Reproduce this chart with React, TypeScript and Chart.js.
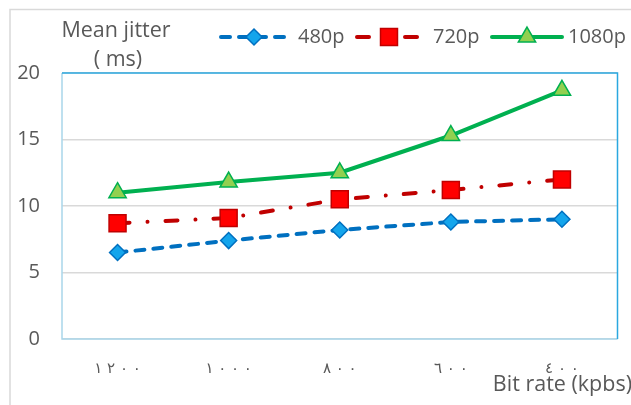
import React, { useEffect, useRef } from "react";
import { Chart, PointElement, registerables } from "chart.js";

Chart.register(...registerables);

// Bit rates (kbps), shown with Arabic-Indic digits
const bitRates = ["١٢٠٠", "١٠٠٠", "٨٠٠", "٦٠٠", "٤٠٠"];

// Mean jitter (ms) per resolution
const jitter480p = [6.5, 7.4, 8.2, 8.8, 9.0];
const jitter720p = [8.7, 9.1, 10.5, 11.2, 12.0];
const jitter1080p = [11.0, 11.8, 12.5, 15.3, 18.7];

const seriesNames = ["480p", "720p", "1080p"];

const TEXT = "#595959";
const FONT = "'Open Sans', 'Noto Sans', sans-serif";

// Put a space between digits; the LRM keeps the digits in reading order.
const spaced = (s: string) => s.split("").join(" \u200E");

const frame = {
  id: "frame",
  beforeDraw(chart: any) {
    const { ctx, width, height } = chart;
    ctx.save();
    ctx.fillStyle = "#ffffff";
    ctx.fillRect(0, 0, width, height);
    ctx.strokeStyle = "#D9D9D9";
    ctx.lineWidth = 1.5;
    ctx.strokeRect(10, 9.5, width + 20, height + 20);
    ctx.restore();
  },
  beforeDatasetsDraw(chart: any) {
    const { ctx, chartArea: a } = chart;
    ctx.save();
    ctx.lineWidth = 1.5;
    ctx.strokeStyle = "#A9D6EA";
    ctx.beginPath();
    ctx.moveTo(a.left, a.top);
    ctx.lineTo(a.left, a.bottom);
    ctx.lineTo(a.right, a.bottom);
    ctx.stroke();
    ctx.strokeStyle = "#2AA8E0";
    ctx.beginPath();
    ctx.moveTo(a.left, a.top);
    ctx.lineTo(a.right, a.top);
    ctx.lineTo(a.right, a.bottom);
    ctx.stroke();
    ctx.restore();
  },
};

// Titles and a legend with line + marker samples
const annotations = {
  id: "annotations",
  afterDraw(chart: any) {
    const { ctx, width } = chart;
    ctx.save();
    ctx.fillStyle = TEXT;
    ctx.font = `21.5px ${FONT}`;
    ctx.textBaseline = "middle";
    ctx.textAlign = "center";
    ctx.fillText("Mean jitter", 116, 31);
    ctx.fillText("( ms)", 118, 60);
    ctx.textAlign = "right";
    ctx.fillText("Bit rate (kpbs)", width + 1, 385);

    const items = [
      { x0: 221, x1: 287, tx: 298 },
      { x0: 357, x1: 421, tx: 433 },
      { x0: 492, x1: 562, tx: 568 },
    ];
    const ly = 37;
    chart.data.datasets.forEach((ds: any, i: number) => {
      const it = items[i];
      ctx.save();
      ctx.strokeStyle = ds.borderColor;
      ctx.lineWidth = ds.borderWidth;
      ctx.lineCap = "round";
      ctx.setLineDash(ds.borderDash || []);
      ctx.beginPath();
      ctx.moveTo(it.x0, ly);
      ctx.lineTo(it.x1, ly);
      ctx.stroke();
      ctx.restore();

      const marker: any = new PointElement({} as any);
      marker.x = (it.x0 + it.x1) / 2;
      marker.y = ly;
      marker.options = {
        pointStyle: ds.pointStyle,
        radius: ds.pointRadius,
        rotation: 0,
        borderWidth: ds.pointBorderWidth,
        backgroundColor: ds.pointBackgroundColor,
        borderColor: ds.pointBorderColor,
      };
      ctx.save();
      marker.draw(ctx);
      ctx.restore();

      ctx.fillStyle = TEXT;
      ctx.textAlign = "left";
      ctx.textBaseline = "middle";
      ctx.font = `20px ${FONT}`;
      ctx.fillText(seriesNames[i], it.tx, ly);
    });
    ctx.restore();
  },
};

export default function App() {
  const ref = useRef<HTMLCanvasElement | null>(null);

  useEffect(() => {
    if (!ref.current) return;
    const chart = new Chart(ref.current, {
      type: "line",
      data: {
        labels: bitRates,
        datasets: [
          {
            label: seriesNames[0],
            data: jitter480p,
            borderColor: "#0070C0",
            borderWidth: 4,
            borderDash: [9, 9],
            borderCapStyle: "round",
            pointStyle: "rectRot",
            pointRadius: 8,
            pointBackgroundColor: "#14A5EC",
            pointBorderColor: "#0070C0",
            pointBorderWidth: 1.5,
          },
          {
            label: seriesNames[1],
            data: jitter720p,
            borderColor: "#C00000",
            borderWidth: 4,
            borderDash: [12, 18, 0.01, 18],
            borderCapStyle: "round",
            pointStyle: "rect",
            pointRadius: 12,
            pointBackgroundColor: "#FF0000",
            pointBorderColor: "#C00000",
            pointBorderWidth: 1.5,
          },
          {
            label: seriesNames[2],
            data: jitter1080p,
            borderColor: "#00B050",
            borderWidth: 4,
            pointStyle: "triangle",
            pointRadius: 10,
            pointBackgroundColor: "#92D050",
            pointBorderColor: "#00B050",
            pointBorderWidth: 1.5,
          },
        ],
      },
      options: {
        animation: false,
        responsive: false,
        devicePixelRatio: 1,
        layout: { padding: { top: 73, right: 6, left: 0, bottom: 0 } },
        plugins: {
          legend: { display: false },
          title: { display: false },
          tooltip: { enabled: false },
        },
        scales: {
          x: {
            offset: true,
            grid: { display: false, drawTicks: false },
            border: { display: false },
            ticks: {
              color: TEXT,
              font: { family: "'DejaVu Sans', sans-serif", size: 15 },
              padding: 21,
              maxRotation: 0,
              callback: (_v: any, i: number) => spaced(bitRates[i]),
            },
            afterFit: (s: any) => {
              s.height = 66;
              s.paddingLeft = 0;
              s.paddingRight = 0;
            },
          },
          y: {
            min: 0,
            max: 20,
            grid: { color: "#D9D9D9", lineWidth: 1.5, drawTicks: false },
            border: { display: false },
            ticks: {
              stepSize: 5,
              color: TEXT,
              font: { family: FONT, size: 20 },
              padding: 22,
            },
            afterFit: (s: any) => {
              s.width = 62;
            },
          },
        },
      },
      plugins: [frame, annotations],
    });
    return () => chart.destroy();
  }, []);

  return (
    <div style={{ position: "absolute", left: 0, top: 0, width: 631, height: 405 }}>
      <canvas ref={ref} width={631} height={405} />
    </div>
  );
}
